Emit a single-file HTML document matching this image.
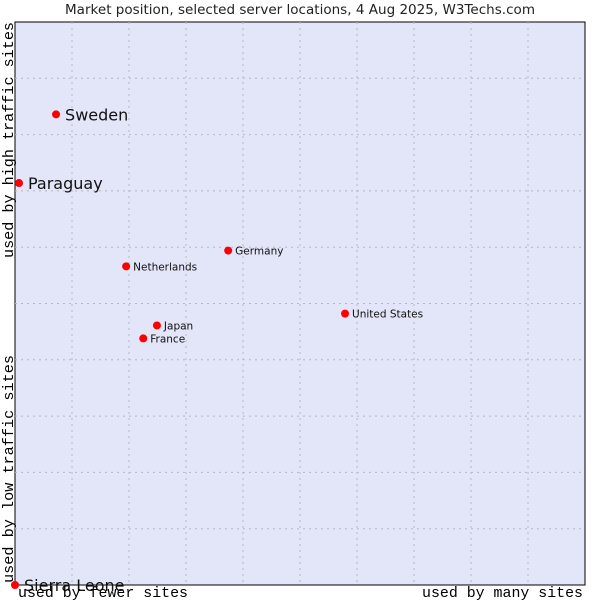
<!DOCTYPE html>
<html><head><meta charset="utf-8"><style>body{margin:0;background:#fff}svg{display:block}</style></head>
<body>
<svg id="chart" width="600" height="600" xmlns="http://www.w3.org/2000/svg">
<text x="65" y="14" textLength="470" lengthAdjust="spacingAndGlyphs" font-family="DejaVu Sans, sans-serif" font-size="13" fill="#222">Market position, selected server locations, 4 Aug 2025, W3Techs.com</text>
<rect x="15" y="22" width="570" height="563" fill="#e3e5f8" stroke="#000" stroke-width="1"/>
<g id="grid"></g>
<g id="marks"></g>
<text x="18" y="597" textLength="170" lengthAdjust="spacingAndGlyphs" font-family="Liberation Mono, monospace" font-size="15" fill="#000">used by fewer sites</text>
<text x="422" y="597" textLength="161" lengthAdjust="spacingAndGlyphs" font-family="Liberation Mono, monospace" font-size="15" fill="#000">used by many sites</text>
<text transform="translate(13,258) rotate(-90)" textLength="236" lengthAdjust="spacingAndGlyphs" font-family="Liberation Mono, monospace" font-size="15" fill="#000">used by high traffic sites</text>
<text transform="translate(13,583) rotate(-90)" textLength="228" lengthAdjust="spacingAndGlyphs" font-family="Liberation Mono, monospace" font-size="15" fill="#000">used by low traffic sites</text>
</svg>
<script>
const countries = ["Sweden","Paraguay","Germany","Netherlands","United States","Japan","France","Sierra Leone"];
const xValues = [7.2,0.7,37.4,19.5,57.9,24.9,22.5,0];
const yValues = [83.6,71.4,59.4,56.6,48.2,46.1,43.8,0];
const bigLabel = [true,true,false,false,false,false,false,true];
const ns="http://www.w3.org/2000/svg";
const L=15,T=22,W=570,H=563;
function sx(v){return L+v/100*W;}
function sy(v){return T+H-v/100*H;}
const grid=document.getElementById('grid');
for(let i=1;i<10;i++){
  const v=document.createElementNS(ns,'line');
  
  
  v.setAttribute('x1',sx(i*10));v.setAttribute('x2',sx(i*10));v.setAttribute('y1',T);v.setAttribute('y2',T+H);
  v.setAttribute('stroke','#b8b8c0');v.setAttribute('stroke-dasharray','2,4');grid.appendChild(v);
  const h=document.createElementNS(ns,'line');
  
  
  h.setAttribute('y1',sy(i*10));h.setAttribute('y2',sy(i*10));h.setAttribute('x1',L);h.setAttribute('x2',L+W);
  h.setAttribute('stroke','#b8b8c0');h.setAttribute('stroke-dasharray','2,4');grid.appendChild(h);
}
const marks=document.getElementById('marks');
countries.forEach((c,i)=>{
  const x=sx(xValues[i]),y=sy(yValues[i]);
  const p=document.createElementNS(ns,'circle');
  
  
  p.setAttribute('cx',x);p.setAttribute('cy',y);p.setAttribute('r',4);p.setAttribute('fill','#f00');
  marks.appendChild(p);
  const t=document.createElementNS(ns,'text');
  
  
  const big=bigLabel[i];
  t.setAttribute('x',x+(big?9:7));t.setAttribute('y',y+(big?6:4));
  t.setAttribute('font-family','DejaVu Sans, sans-serif');
  t.setAttribute('font-size',big?16:10.5);
  t.setAttribute('fill','#111');
  t.textContent=c;
  marks.appendChild(t);
});
</script>
</body></html>
